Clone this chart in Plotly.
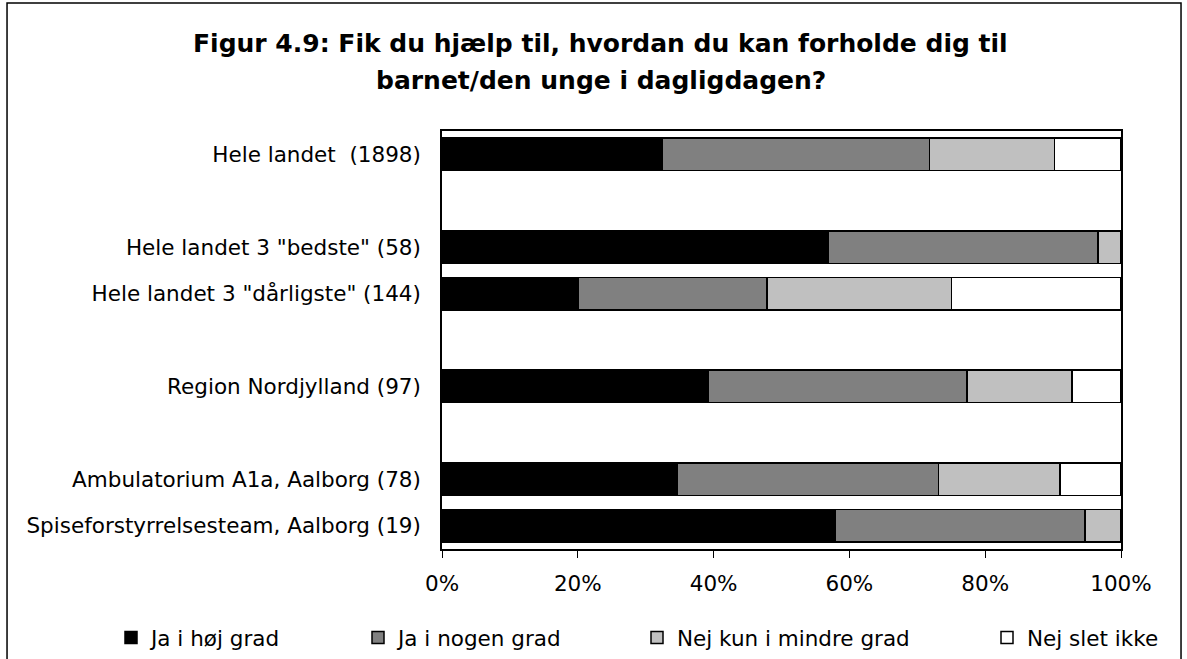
import plotly.graph_objects as go

# kategorier (tomme rækker giver luft mellem grupperne)
categories = [
    'Hele landet\u00a0 (1898)',
    ' ',
    'Hele landet 3 "bedste" (58)',
    'Hele landet 3 "dårligste" (144)',
    '  ',
    'Region Nordjylland (97)',
    '   ',
    'Ambulatorium A1a, Aalborg (78)',
    'Spiseforstyrrelsesteam, Aalborg (19)',
]

# andele i procent
ja_hoej = [32.5, None, 56.9, 20.1, None, 39.2, None, 34.6, 57.9]
ja_nogen = [39.3, None, 39.7, 27.8, None, 38.1, None, 38.5, 36.8]
nej_mindre = [18.4, None, 3.4, 27.1, None, 15.5, None, 17.9, 5.3]
nej_slet = [9.8, None, 0.0, 25.0, None, 7.2, None, 9.0, 0.0]

x_ticks = [0, 20, 40, 60, 80, 100]
x_ticklabels = ['0%', '20%', '40%', '60%', '80%', '100%']

series = [
    ('Ja i høj grad', ja_hoej, '#000000'),
    ('Ja i nogen grad', ja_nogen, '#808080'),
    ('Nej kun i mindre grad', nej_mindre, '#C0C0C0'),
    ('Nej slet ikke', nej_slet, '#FFFFFF'),
]

# venstre kant af hver forklaring (pixel), omregnet til papir-koordinater
legend_px = [125, 372, 651, 1001]
plot_left, plot_w = 442, 679

font = 'Verdana, DejaVu Sans, sans-serif'

fig = go.Figure()
legend_layout = {}
for i, (name, vals, col) in enumerate(series):
    lname = 'legend' if i == 0 else 'legend%d' % (i + 1)
    fig.add_trace(go.Bar(
        y=categories, x=vals, name=name, orientation='h', legend=lname,
        marker=dict(color=col, line=dict(color='#000000', width=1.5)),
    ))
    legend_layout[lname] = dict(
        orientation='h', x=(legend_px[i] - 14 - plot_left) / plot_w,
        xanchor='left', y=-0.212, yanchor='middle',
        font=dict(size=21.5), itemwidth=30, bgcolor='rgba(0,0,0,0)',
    )

fig.update_layout(
    width=1187, height=659,
    barmode='stack', bargap=0.3,
    plot_bgcolor='white', paper_bgcolor='white',
    margin=dict(l=442, r=66, t=131, b=110, autoexpand=False),
    font=dict(family=font, size=21.5, color='#000000'),
    showlegend=True,
    **legend_layout,
)

fig.update_xaxes(
    range=[0, 100], tickvals=x_ticks, ticktext=x_ticklabels,
    showgrid=False, zeroline=False, showline=True, linecolor='#000000',
    linewidth=1.5, mirror=True, ticks='outside', ticklen=7,
    tickcolor='#000000', ticklabelstandoff=7, tickfont=dict(size=21.5),
)
fig.update_yaxes(
    autorange='reversed', showgrid=False, showline=True, linecolor='#000000',
    linewidth=1.5, mirror=True, ticks='', ticklabelstandoff=15,
    tickfont=dict(size=21.5),
)

# titel i to linjer
fig.add_annotation(
    text='<b>Figur 4.9: Fik du hjælp til, hvordan du kan forholde dig til</b>',
    xref='paper', yref='paper', x=0.234, y=1.21, showarrow=False,
    xanchor='center', yanchor='middle', font=dict(size=25),
)
fig.add_annotation(
    text='<b>barnet/den unge i dagligdagen?</b>',
    xref='paper', yref='paper', x=0.234, y=1.122, showarrow=False,
    xanchor='center', yanchor='middle', font=dict(size=25),
)

# ramme om hele diagrammet
fig.add_shape(
    type='rect', xref='paper', yref='paper',
    x0=-0.6406, x1=1.0884, y0=-0.35, y1=1.306,
    line=dict(color='#000000', width=1.5), fillcolor='rgba(0,0,0,0)',
)

fig.write_html('out.html', config={'displayModeBar': False},
               post_script="document.body.style.margin='0';")
